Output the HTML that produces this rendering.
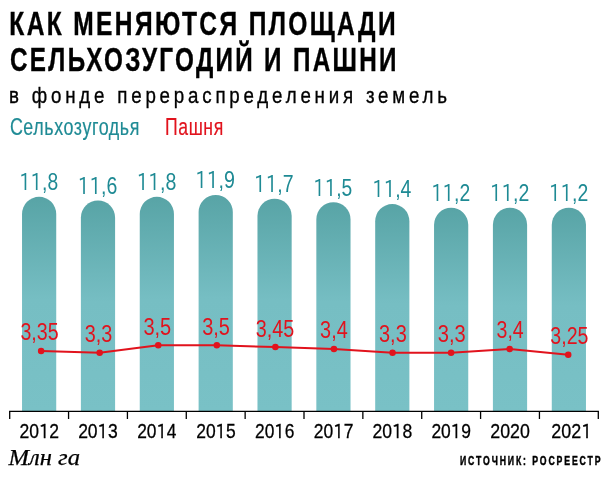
<!DOCTYPE html>
<html lang="ru"><head><meta charset="utf-8"><title>Как меняются площади сельхозугодий и пашни</title>
<style>
html,body{margin:0;padding:0;background:#fff;}
body{width:608px;height:478px;overflow:hidden;}
svg{display:block;}
text{font-family:'Liberation Sans', Arial, sans-serif;}
.it{font-family:'Liberation Serif', 'Times New Roman', serif;font-style:italic;}
.d1{font-family:'IPAPGothic','IPAGothic','Liberation Sans',Arial,sans-serif;font-size:0.944em;}
</style></head><body>
<svg width="608" height="478" viewBox="0 0 608 478">
<defs>
<linearGradient id="bg" x1="0" y1="0" x2="0" y2="1">
<stop offset="0" stop-color="#58a4a6"/>
<stop offset="0.48" stop-color="#76bec3"/>
<stop offset="1" stop-color="#79c1c6"/>
</linearGradient>
</defs>
<rect width="608" height="478" fill="#fff"/>

<text x="9.36" y="35.00" font-size="33.2" fill="#000" textLength="388.53" lengthAdjust="spacingAndGlyphs" font-weight="bold" letter-spacing="3.2" stroke="#000" stroke-width="0.4">КАК МЕНЯЮТСЯ ПЛОЩАДИ</text>
<text x="10.02" y="71.00" font-size="33.2" fill="#000" textLength="388.80" lengthAdjust="spacingAndGlyphs" font-weight="bold" letter-spacing="3.2" stroke="#000" stroke-width="0.4">СЕЛЬХОЗУГОДИЙ И ПАШНИ</text>
<text x="9.00" y="103.20" font-size="22.2" fill="#000" textLength="441.88" lengthAdjust="spacingAndGlyphs" letter-spacing="4.5" stroke="#000" stroke-width="0.35">в фонде перераспределения земель</text>
<text x="9.88" y="134.80" font-size="24.3" fill="#1f8b95" textLength="130.05" lengthAdjust="spacingAndGlyphs" letter-spacing="0.8" stroke="#1f8b95" stroke-width="0.2">Сельхозугодья</text>
<text x="165.06" y="134.80" font-size="24.3" fill="#e1131d" textLength="58.69" lengthAdjust="spacingAndGlyphs" letter-spacing="0.8" stroke="#e1131d" stroke-width="0.2">Пашня</text>
<path d="M22.03,411 V213.93 A17.1,17.1 0 0 1 56.23,213.93 V411 Z" fill="url(#bg)"/>
<text x="38.63" y="190.13" font-size="24.5" fill="#1e8a94" text-anchor="middle" textLength="38.97" lengthAdjust="spacingAndGlyphs"><tspan class="d1">1</tspan><tspan class="d1">1</tspan>,8</text>
<path d="M80.89,411 V217.56 A17.1,17.1 0 0 1 115.09,217.56 V411 Z" fill="url(#bg)"/>
<text x="97.53" y="193.76" font-size="24.5" fill="#1e8a94" text-anchor="middle" textLength="39.45" lengthAdjust="spacingAndGlyphs"><tspan class="d1">1</tspan><tspan class="d1">1</tspan>,6</text>
<path d="M139.75,411 V213.93 A17.1,17.1 0 0 1 173.95,213.93 V411 Z" fill="url(#bg)"/>
<text x="156.52" y="190.13" font-size="24.5" fill="#1e8a94" text-anchor="middle" textLength="39.55" lengthAdjust="spacingAndGlyphs"><tspan class="d1">1</tspan><tspan class="d1">1</tspan>,8</text>
<path d="M198.61,411 V212.12 A17.1,17.1 0 0 1 232.81,212.12 V411 Z" fill="url(#bg)"/>
<text x="214.98" y="188.32" font-size="24.5" fill="#1e8a94" text-anchor="middle" textLength="39.70" lengthAdjust="spacingAndGlyphs"><tspan class="d1">1</tspan><tspan class="d1">1</tspan>,9</text>
<path d="M257.47,411 V215.75 A17.1,17.1 0 0 1 291.67,215.75 V411 Z" fill="url(#bg)"/>
<text x="273.84" y="191.95" font-size="24.5" fill="#1e8a94" text-anchor="middle" textLength="39.49" lengthAdjust="spacingAndGlyphs"><tspan class="d1">1</tspan><tspan class="d1">1</tspan>,7</text>
<path d="M316.33,411 V219.38 A17.1,17.1 0 0 1 350.53,219.38 V411 Z" fill="url(#bg)"/>
<text x="332.81" y="195.58" font-size="24.5" fill="#1e8a94" text-anchor="middle" textLength="38.94" lengthAdjust="spacingAndGlyphs"><tspan class="d1">1</tspan><tspan class="d1">1</tspan>,5</text>
<path d="M375.19,411 V221.19 A17.1,17.1 0 0 1 409.39,221.19 V411 Z" fill="url(#bg)"/>
<text x="391.77" y="197.39" font-size="24.5" fill="#1e8a94" text-anchor="middle" textLength="39.26" lengthAdjust="spacingAndGlyphs"><tspan class="d1">1</tspan><tspan class="d1">1</tspan>,4</text>
<path d="M434.05,411 V224.82 A17.1,17.1 0 0 1 468.25,224.82 V411 Z" fill="url(#bg)"/>
<text x="450.66" y="201.02" font-size="24.5" fill="#1e8a94" text-anchor="middle" textLength="39.04" lengthAdjust="spacingAndGlyphs"><tspan class="d1">1</tspan><tspan class="d1">1</tspan>,2</text>
<path d="M492.91,411 V224.82 A17.1,17.1 0 0 1 527.11,224.82 V411 Z" fill="url(#bg)"/>
<text x="509.57" y="201.02" font-size="24.5" fill="#1e8a94" text-anchor="middle" textLength="39.39" lengthAdjust="spacingAndGlyphs"><tspan class="d1">1</tspan><tspan class="d1">1</tspan>,2</text>
<path d="M551.77,411 V224.82 A17.1,17.1 0 0 1 585.97,224.82 V411 Z" fill="url(#bg)"/>
<text x="568.60" y="201.02" font-size="24.5" fill="#1e8a94" text-anchor="middle" textLength="39.25" lengthAdjust="spacingAndGlyphs"><tspan class="d1">1</tspan><tspan class="d1">1</tspan>,2</text>
<polyline points="41.10,350.90 99.67,352.80 158.24,345.20 216.81,345.20 275.38,347.10 333.95,349.00 392.52,352.80 451.09,352.80 509.66,349.00 568.23,354.70" fill="none" stroke="#e1131d" stroke-width="2.0" stroke-linejoin="round"/>
<circle cx="41.10" cy="350.90" r="3.25" fill="#e1131d"/>
<text x="39.49" y="340.30" font-size="24.2" fill="#e1131d" text-anchor="middle" textLength="38.15" lengthAdjust="spacingAndGlyphs">3,35</text>
<circle cx="99.67" cy="352.80" r="3.25" fill="#e1131d"/>
<text x="98.62" y="342.20" font-size="24.2" fill="#e1131d" text-anchor="middle" textLength="27.56" lengthAdjust="spacingAndGlyphs">3,3</text>
<circle cx="158.24" cy="345.20" r="3.25" fill="#e1131d"/>
<text x="157.29" y="334.60" font-size="24.2" fill="#e1131d" text-anchor="middle" textLength="27.83" lengthAdjust="spacingAndGlyphs">3,5</text>
<circle cx="216.81" cy="345.20" r="3.25" fill="#e1131d"/>
<text x="215.99" y="334.60" font-size="24.2" fill="#e1131d" text-anchor="middle" textLength="27.72" lengthAdjust="spacingAndGlyphs">3,5</text>
<circle cx="275.38" cy="347.10" r="3.25" fill="#e1131d"/>
<text x="275.02" y="336.50" font-size="24.2" fill="#e1131d" text-anchor="middle" textLength="38.44" lengthAdjust="spacingAndGlyphs">3,45</text>
<circle cx="333.95" cy="349.00" r="3.25" fill="#e1131d"/>
<text x="333.89" y="338.40" font-size="24.2" fill="#e1131d" text-anchor="middle" textLength="27.54" lengthAdjust="spacingAndGlyphs">3,4</text>
<circle cx="392.52" cy="352.80" r="3.25" fill="#e1131d"/>
<text x="392.87" y="342.20" font-size="24.2" fill="#e1131d" text-anchor="middle" textLength="27.71" lengthAdjust="spacingAndGlyphs">3,3</text>
<circle cx="451.09" cy="352.80" r="3.25" fill="#e1131d"/>
<text x="451.67" y="342.20" font-size="24.2" fill="#e1131d" text-anchor="middle" textLength="27.90" lengthAdjust="spacingAndGlyphs">3,3</text>
<circle cx="509.66" cy="349.00" r="3.25" fill="#e1131d"/>
<text x="510.14" y="338.40" font-size="24.2" fill="#e1131d" text-anchor="middle" textLength="27.17" lengthAdjust="spacingAndGlyphs">3,4</text>
<circle cx="568.23" cy="354.70" r="3.25" fill="#e1131d"/>
<text x="569.37" y="344.10" font-size="24.2" fill="#e1131d" text-anchor="middle" textLength="38.13" lengthAdjust="spacingAndGlyphs">3,25</text>
<path d="M9.10,411.3 H598.90" stroke="#000" stroke-width="1.3" fill="none"/>
<path d="M9.70,411.3 V419" stroke="#000" stroke-width="1.3" fill="none"/>
<path d="M68.56,411.3 V419" stroke="#000" stroke-width="1.3" fill="none"/>
<path d="M127.42,411.3 V419" stroke="#000" stroke-width="1.3" fill="none"/>
<path d="M186.28,411.3 V419" stroke="#000" stroke-width="1.3" fill="none"/>
<path d="M245.14,411.3 V419" stroke="#000" stroke-width="1.3" fill="none"/>
<path d="M304.00,411.3 V419" stroke="#000" stroke-width="1.3" fill="none"/>
<path d="M362.86,411.3 V419" stroke="#000" stroke-width="1.3" fill="none"/>
<path d="M421.72,411.3 V419" stroke="#000" stroke-width="1.3" fill="none"/>
<path d="M480.58,411.3 V419" stroke="#000" stroke-width="1.3" fill="none"/>
<path d="M539.44,411.3 V419" stroke="#000" stroke-width="1.3" fill="none"/>
<path d="M598.30,411.3 V419" stroke="#000" stroke-width="1.3" fill="none"/>
<text x="39.28" y="437.80" font-size="20.8" fill="#000" text-anchor="middle" textLength="39.71" lengthAdjust="spacingAndGlyphs" stroke="#000" stroke-width="0.3">20<tspan class="d1">1</tspan>2</text>
<text x="97.96" y="437.80" font-size="20.8" fill="#000" text-anchor="middle" textLength="39.67" lengthAdjust="spacingAndGlyphs" stroke="#000" stroke-width="0.3">20<tspan class="d1">1</tspan>3</text>
<text x="156.84" y="437.80" font-size="20.8" fill="#000" text-anchor="middle" textLength="39.31" lengthAdjust="spacingAndGlyphs" stroke="#000" stroke-width="0.3">20<tspan class="d1">1</tspan>4</text>
<text x="215.94" y="437.80" font-size="20.8" fill="#000" text-anchor="middle" textLength="39.53" lengthAdjust="spacingAndGlyphs" stroke="#000" stroke-width="0.3">20<tspan class="d1">1</tspan>5</text>
<text x="274.64" y="437.80" font-size="20.8" fill="#000" text-anchor="middle" textLength="39.34" lengthAdjust="spacingAndGlyphs" stroke="#000" stroke-width="0.3">20<tspan class="d1">1</tspan>6</text>
<text x="333.62" y="437.80" font-size="20.8" fill="#000" text-anchor="middle" textLength="39.52" lengthAdjust="spacingAndGlyphs" stroke="#000" stroke-width="0.3">20<tspan class="d1">1</tspan>7</text>
<text x="392.46" y="437.80" font-size="20.8" fill="#000" text-anchor="middle" textLength="39.77" lengthAdjust="spacingAndGlyphs" stroke="#000" stroke-width="0.3">20<tspan class="d1">1</tspan>8</text>
<text x="451.17" y="437.80" font-size="20.8" fill="#000" text-anchor="middle" textLength="39.52" lengthAdjust="spacingAndGlyphs" stroke="#000" stroke-width="0.3">20<tspan class="d1">1</tspan>9</text>
<text x="510.11" y="437.80" font-size="20.8" fill="#000" text-anchor="middle" textLength="39.57" lengthAdjust="spacingAndGlyphs" stroke="#000" stroke-width="0.3">2020</text>
<text x="571.53" y="437.80" font-size="20.8" fill="#000" text-anchor="middle" textLength="40.54" lengthAdjust="spacingAndGlyphs" stroke="#000" stroke-width="0.3">202<tspan class="d1">1</tspan></text>
<text x="8.41" y="465.40" font-size="22.4" fill="#000" textLength="71.59" lengthAdjust="spacingAndGlyphs" class="it" stroke="#000" stroke-width="0.25">Млн га</text>
<text x="459.96" y="465.00" font-size="12.0" fill="#000" textLength="142.48" lengthAdjust="spacingAndGlyphs" font-weight="bold" letter-spacing="2.6" stroke="#000" stroke-width="0.45">ИСТОЧНИК: РОСРЕЕСТР</text>
</svg></body></html>
